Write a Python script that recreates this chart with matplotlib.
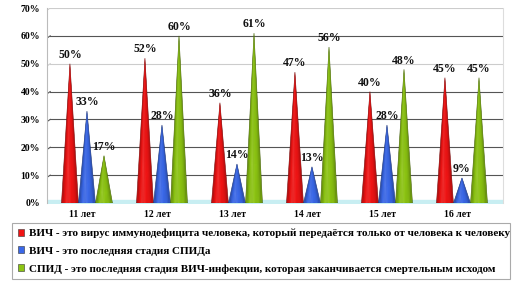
import numpy as np
import matplotlib
matplotlib.use("Agg")
import matplotlib.pyplot as plt
import matplotlib.colors as mcolors
from matplotlib.patches import Polygon, Ellipse, Patch

plt.rcParams['font.family'] = ['Liberation Serif', 'DejaVu Serif']
plt.rcParams['font.weight'] = 'bold'

# данные
ages = ["11 лет", "12 лет", "13 лет", "14 лет", "15 лет", "16 лет"]
hiv_virus = [50, 52, 36, 47, 40, 45]
hiv_last_stage = [33, 28, 14, 13, 28, 9]
aids_last_stage = [17, 60, 61, 56, 48, 45]

series_names = [
    "ВИЧ - это вирус иммунодефицита человека, который передаётся только от человека к человеку",
    "ВИЧ - это последняя стадия СПИДа",
    "СПИД - это последняя стадия ВИЧ-инфекции, которая заканчивается смертельным исходом",
]
series_colors = ["#f01414", "#3a68e8", "#8cc412"]


def shade(color, f):
    # f > 0 светлее, f < 0 темнее
    c = np.array(mcolors.to_rgb(color))
    if f >= 0:
        c = c + (1 - c) * f
    else:
        c = c * (1 + f)
    return np.clip(c, 0, 1)


def draw_cone(ax, xc, h, w, color):
    # подложка, чтобы не было светлых швов между полосками
    ax.add_patch(Polygon([(xc - w / 2, 0), (xc + w / 2, 0), (xc, h)], closed=True,
                         facecolor=shade(color, -0.1), edgecolor=shade(color, -0.55),
                         lw=0.4, zorder=3))
    n = 12
    edges = np.linspace(-0.92, 0.92, n + 1)
    for k in range(n):
        u0, u1 = edges[k], edges[k + 1]
        um = (u0 + u1) / 2
        f = 0.12 * np.exp(-((um + 0.3) / 0.3) ** 2) - 0.4 * abs(um) ** 3
        poly = Polygon([(xc + u0 * w / 2, 0), (xc + u1 * w / 2, 0), (xc, h)],
                       closed=True, facecolor=shade(color, f), edgecolor='none',
                       zorder=3.1)
        ax.add_patch(poly)
    base = Ellipse((xc, 0), w, 1.0, facecolor=shade(color, -0.3),
                   edgecolor='none', zorder=2.9)
    ax.add_patch(base)


fig = plt.figure(figsize=(5.25, 2.92), dpi=100)
ax = fig.add_axes([47 / 525, 1 - 203 / 292, 456 / 525, 195 / 292])
ax.set_xlim(-0.533, 5.547)
ax.set_ylim(0, 70)

# сетка на задней стенке
for v in range(10, 71, 10):
    col = '#cccccc' if v in (50, 70) else '#555555'
    ax.plot([-0.49, 5.547], [v, v], color=col, lw=0.8, zorder=1)
    ax.plot([-0.533, -0.49], [v - 0.8, v], color=col, lw=0.8, zorder=1)
# пол
ax.fill_between([-0.533, 5.547], [-0.2, -0.2], [1.0, 1.0], color='#c8eef2', zorder=1)
ax.plot([-0.533, 5.48], [0, 0], color='#9aa', lw=0.6, zorder=1)

w = 0.225
offsets = [-0.227, 0.0, 0.227]
all_series = [hiv_virus, hiv_last_stage, aids_last_stage]
for s, vals in enumerate(all_series):
    for i, v in enumerate(vals):
        xc = i + offsets[s]
        draw_cone(ax, xc, v, w, series_colors[s])
        ax.text(xc, v + 1.0, f"{v}%", ha='center', va='bottom', fontsize=8.5,
                fontweight='bold', color='#111111', zorder=5)

ax.set_xticks(np.arange(len(ages)) - 0.06)
ax.set_xticklabels(ages, fontsize=7, fontweight='bold')
ax.set_yticks(range(0, 71, 10))
ax.set_yticklabels([f"{v}%" for v in range(0, 71, 10)], fontsize=7, fontweight='bold')
ax.tick_params(axis='both', length=0, pad=5)
ax.tick_params(axis='y', pad=5)
for side in ['top', 'bottom']:
    ax.spines[side].set_visible(False)
ax.spines['left'].set_color('#bbbbbb')
ax.spines['right'].set_color('#dddddd')
ax.set_facecolor('white')

handles = [Patch(facecolor=c, edgecolor='#333333', linewidth=0.4) for c in series_colors]
leg = fig.legend(handles, series_names, loc='upper left',
                 bbox_to_anchor=(12 / 525, 1 - 288 / 292, 498 / 525, 65 / 292),
                 mode='expand', borderaxespad=0, handlelength=0.6, handleheight=0.6,
                 handletextpad=0.4, labelspacing=0.75, fancybox=False,
                 edgecolor='#aaaaaa', borderpad=0.5, framealpha=1,
                 prop={'weight': 'bold', 'size': 8})
leg.get_frame().set_linewidth(0.8)

fig.savefig("out.png", dpi=100)
